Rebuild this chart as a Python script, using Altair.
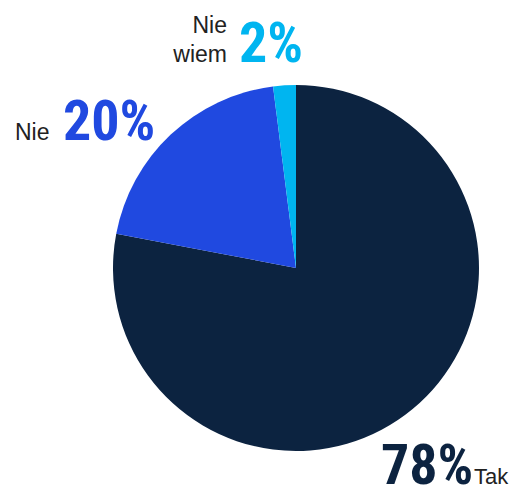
import altair as alt
import pandas as pd

categories = ["Tak", "Nie", "Nie wiem"]
values = [78, 20, 2]
colors = ["#0c2340", "#2049e0", "#00b5f0"]

df = pd.DataFrame({"cat": categories, "val": values, "ord": [0, 1, 2]})

CX, CY, R = 288, 260, 183

pie = alt.Chart(df).mark_arc(outerRadius=R).encode(
    theta=alt.Theta("val:Q", stack=True),
    order=alt.Order("ord:Q"),
    color=alt.Color("cat:N", scale=alt.Scale(domain=categories, range=colors), legend=None),
    x=alt.value(CX),
    y=alt.value(CY),
)

big_font = "'Roboto Condensed', 'DejaVu Sans Condensed', 'Liberation Sans Narrow', Roboto, sans-serif"
small_font = "Liberation Sans, Arial, sans-serif"

def txt(text, x, y, size, color, font, weight="normal", align="left"):
    return alt.Chart(pd.DataFrame({"t": [text]})).mark_text(
        font=font, fontSize=size, fontWeight=weight, color=color, align=align, baseline="alphabetic"
    ).encode(text="t:N", x=alt.value(x), y=alt.value(y))

labels = [
    txt(f"{values[0]}%", 373, 476, 56, colors[0], big_font, "bold"),
    txt(categories[0], 466, 476, 22, "#222222", small_font),
    txt("Nie", 7, 132, 23, "#222222", small_font),
    txt(f"{values[1]}%", 55, 132, 56, colors[1], big_font, "bold"),
    txt("Nie", 219, 25, 23, "#222222", small_font, align="right"),
    txt("wiem", 219, 54, 23, "#222222", small_font, align="right"),
    txt(f"{values[2]}%", 231, 54, 56, colors[2], big_font, "bold"),
]

chart = alt.layer(pie, *labels).properties(
    width=505, height=488, padding=0,
    autosize=alt.AutoSizeParams(type="none"),
).configure_view(stroke=None)

chart.save("out.html", embed_options={"renderer": "svg", "actions": False})
